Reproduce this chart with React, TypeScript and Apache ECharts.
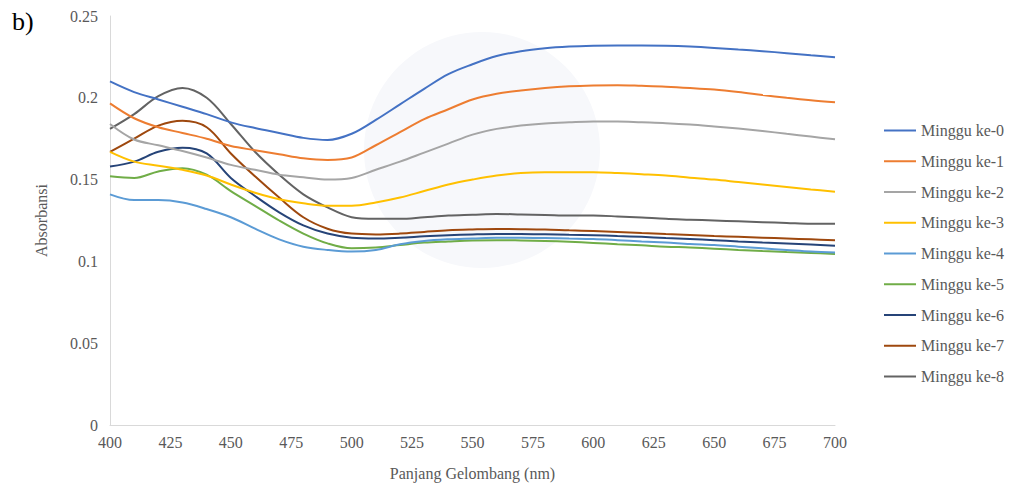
import React, { useEffect, useRef } from "react";
import * as echarts from "echarts";

const wavelengths = [400, 410, 420, 430, 440, 450, 460, 470, 480, 490, 500, 510, 520, 530, 540, 550, 560, 570, 580, 590, 600, 610, 620, 630, 640, 650, 660, 670, 680, 690, 700];

const seriesNames = ["Minggu ke-0", "Minggu ke-1", "Minggu ke-2", "Minggu ke-3", "Minggu ke-4", "Minggu ke-5", "Minggu ke-6", "Minggu ke-7", "Minggu ke-8"];

const minggu0 = [0.210, 0.2035, 0.199, 0.1945, 0.190, 0.185, 0.1815, 0.1785, 0.1755, 0.1742, 0.178, 0.1865, 0.196, 0.2055, 0.2145, 0.2205, 0.2255, 0.2285, 0.2303, 0.2313, 0.2318, 0.232, 0.232, 0.2318, 0.2313, 0.2305, 0.2295, 0.2285, 0.2273, 0.226, 0.2248];
const minggu1 = [0.1966, 0.1875, 0.182, 0.1785, 0.175, 0.1705, 0.168, 0.1655, 0.163, 0.162, 0.1635, 0.171, 0.179, 0.187, 0.193, 0.199, 0.2025, 0.2045, 0.206, 0.207, 0.2075, 0.2077, 0.2073, 0.2068, 0.206, 0.205, 0.2035, 0.2017, 0.2, 0.1985, 0.1973];
const minggu2 = [0.184, 0.1745, 0.171, 0.1675, 0.1635, 0.159, 0.156, 0.153, 0.1515, 0.150, 0.151, 0.156, 0.161, 0.1665, 0.172, 0.1775, 0.181, 0.183, 0.1843, 0.185, 0.1855, 0.1855, 0.185, 0.1845, 0.1837, 0.1825, 0.1812, 0.1797, 0.178, 0.1763, 0.1746];
const minggu3 = [0.167, 0.161, 0.1585, 0.156, 0.1525, 0.147, 0.142, 0.138, 0.1355, 0.134, 0.134, 0.136, 0.139, 0.143, 0.147, 0.150, 0.1525, 0.154, 0.1545, 0.1545, 0.1545, 0.154, 0.1533, 0.1525, 0.1512, 0.150, 0.1485, 0.147, 0.1455, 0.144, 0.1426];
const minggu4 = [0.141, 0.1375, 0.1375, 0.136, 0.132, 0.127, 0.120, 0.1135, 0.109, 0.107, 0.106, 0.107, 0.1105, 0.1125, 0.1135, 0.114, 0.1145, 0.1145, 0.1143, 0.114, 0.1137, 0.113, 0.1122, 0.1115, 0.1106, 0.110, 0.109, 0.108, 0.107, 0.106, 0.1055];
const minggu5 = [0.152, 0.151, 0.155, 0.157, 0.153, 0.143, 0.134, 0.125, 0.117, 0.111, 0.108, 0.1085, 0.110, 0.1115, 0.1122, 0.1128, 0.113, 0.1128, 0.1125, 0.112, 0.1113, 0.1105, 0.1098, 0.109, 0.1085, 0.1078, 0.107, 0.1063, 0.1057, 0.1052, 0.1045];
const minggu6 = [0.158, 0.161, 0.167, 0.1695, 0.166, 0.151, 0.140, 0.130, 0.122, 0.117, 0.1145, 0.114, 0.1145, 0.1153, 0.116, 0.1165, 0.1168, 0.1168, 0.1166, 0.1163, 0.116, 0.1155, 0.115, 0.1143, 0.1137, 0.113, 0.1122, 0.1115, 0.111, 0.1103, 0.1096];
const minggu7 = [0.167, 0.175, 0.183, 0.186, 0.182, 0.166, 0.152, 0.139, 0.127, 0.120, 0.117, 0.1165, 0.117, 0.118, 0.119, 0.1195, 0.1198, 0.1197, 0.1195, 0.119, 0.1186, 0.118, 0.1173, 0.1167, 0.1162, 0.1155, 0.115, 0.1145, 0.114, 0.1135, 0.113];
const minggu8 = [0.181, 0.190, 0.201, 0.206, 0.200, 0.184, 0.167, 0.153, 0.141, 0.133, 0.127, 0.126, 0.126, 0.127, 0.128, 0.1285, 0.129, 0.1287, 0.1284, 0.128, 0.128, 0.1275, 0.1268, 0.126, 0.1255, 0.125, 0.1245, 0.124, 0.1235, 0.123, 0.123];

const allValues = [minggu0, minggu1, minggu2, minggu3, minggu4, minggu5, minggu6, minggu7, minggu8];
const colors = ["#4472C4", "#ED7D31", "#A5A5A5", "#FFC000", "#5B9BD5", "#70AD47", "#264478", "#9E480E", "#636363"];

const FONT = "Liberation Serif";

export default function App() {
  const ref = useRef<HTMLDivElement>(null);
  useEffect(() => {
    document.body.style.margin = "0";
    const chart = echarts.init(ref.current!, null, { renderer: "svg" });
    const series = allValues.map((vals, i) => ({
      name: seriesNames[i],
      type: "line",
      data: wavelengths.map((w, j) => [w, vals[j]]),
      smooth: 0.35,
      symbol: "none",
      lineStyle: { width: 2, color: colors[i] },
      itemStyle: { color: colors[i] },
      z: 10 - i,
    }));
    const label = { fontFamily: FONT, fontSize: 16, color: "#595959" };
    chart.setOption({
      animation: false,
      backgroundColor: "#ffffff",
      textStyle: { fontFamily: FONT },
      graphic: [
        {
          type: "circle",
          z: -10,
          shape: { cx: 482, cy: 150, r: 118 },
          style: { fill: "#f7f8fb" },
          silent: true,
        },
        {
          type: "text",
          left: 12,
          top: 8,
          style: { text: "b)", fontFamily: FONT, fontSize: 26, fill: "#000000" },
        },
      ],
      grid: { left: 110, right: 175, top: 16, bottom: 62 },
      legend: {
        orient: "vertical",
        left: 884,
        top: 122.5,
        padding: 0,
        itemWidth: 32,
        itemHeight: 2,
        icon: "rect",
        itemGap: 14.75,
        data: seriesNames,
        textStyle: { ...label, lineHeight: 16 },
      },
      xAxis: {
        type: "value",
        min: 400,
        max: 700,
        interval: 25,
        name: "Panjang Gelombang (nm)",
        nameLocation: "middle",
        nameGap: 40,
        nameTextStyle: label,
        axisLine: { show: true, lineStyle: { color: "#d9d9d9", width: 1 } },
        axisTick: { show: false },
        splitLine: { show: false },
        axisLabel: { ...label, margin: 9 },
      },
      yAxis: {
        type: "value",
        min: 0,
        max: 0.25,
        interval: 0.05,
        name: "Absorbansi",
        nameLocation: "middle",
        nameGap: 61,
        nameTextStyle: label,
        axisLine: { show: true, lineStyle: { color: "#d9d9d9", width: 1 } },
        axisTick: { show: false },
        splitLine: { show: false },
        axisLabel: { ...label, margin: 12 },
      },
      series,
    });
    return () => chart.dispose();
  }, []);
  return <div ref={ref} style={{ position: "absolute", left: 0, top: 0, width: 1010, height: 487 }} />;
}
